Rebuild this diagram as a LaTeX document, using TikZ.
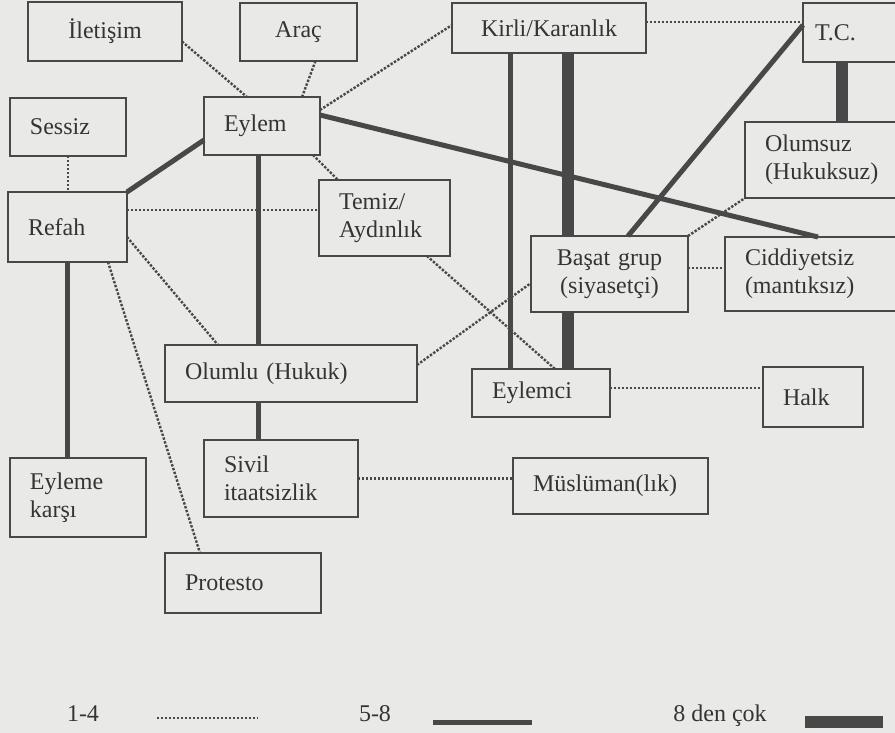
\documentclass[tikz,border=0pt]{standalone}
\usepackage{fontspec}
\setmainfont{Liberation Serif}
\definecolor{kagit}{RGB}{233,233,231}
\definecolor{murekkep}{RGB}{52,52,52}
\definecolor{cizgi}{RGB}{72,72,72}
\begin{document}
\begin{tikzpicture}[x=1pt,y=-1pt,
    kutu/.style={draw=cizgi,line width=2pt,outer sep=0pt,anchor=north west,align=left,inner xsep=20pt,inner ysep=0pt,text=murekkep,font=\fontsize{24}{28}\selectfont},
    ince/.style={draw=cizgi,line width=2.4pt,dash pattern=on 2.4pt off 1.6pt},
    orta/.style={draw=cizgi,line width=5pt},
    kalin/.style={draw=cizgi,line width=12pt},
    yazi/.style={text=murekkep,font=\fontsize{24}{28}\selectfont,anchor=base}]
    \useasboundingbox (0,0) rectangle (895,733);
    \clip (0,0) rectangle (895,733);
    \fill[kagit] (0,0) rectangle (895,733);
    \node[kutu,align=center,text width=114pt,minimum height=59pt] (ilet) at (28,2) {İletişim};
    \node[kutu,align=center,text width=77pt,minimum height=58pt] (arac) at (240,3) {Araç};
    \node[kutu,align=center,text width=154pt,minimum height=50pt] (kirli) at (452,3) {Kirli/Karanlık};
    \node[kutu,inner xsep=12pt,text width=78pt,minimum height=59pt] (tc) at (803,3) {T.C.};
    \node[kutu,text width=76pt,minimum height=58pt] (sessiz) at (10,98) {Sessiz};
    \node[kutu,text width=76pt,minimum height=58pt] (eylem) at (204,97) {Eylem};
    \node[kutu,text width=79pt,minimum height=70pt] (refah) at (8,192) {Refah};
    \node[kutu,text width=91pt,minimum height=76pt] (temiz) at (319,180) {Temiz/\\Aydınlık};
    \node[kutu,text width=114pt,minimum height=76pt] (olumsuz) at (745,122) {Olumsuz\\(Hukuksuz)};
    \node[kutu,align=center,text width=117pt,minimum height=76pt] (basat) at (531,236) {Başat grup\\(siyasetçi)};
    \node[kutu,text width=135pt,minimum height=74pt] (ciddi) at (725,237) {Ciddiyetsiz\\(mantıksız)};
    \node[kutu,text width=212pt,minimum height=57pt] (olumlu) at (165,345) {Olumlu (Hukuk)};
    \node[kutu,text width=98pt,minimum height=48pt] (eylemci) at (472,369) {Eylemci};
    \node[kutu,text width=60pt,minimum height=60pt] (halk) at (763,367) {Halk};
    \node[kutu,text width=114pt,minimum height=77pt] (sivil) at (204,440) {Sivil\\itaatsizlik};
    \node[kutu,text width=155pt,minimum height=56pt] (muslu) at (513,458) {Müslüman(lık)};
    \node[kutu,text width=96pt,minimum height=79pt] (karsi) at (10,458) {Eyleme\\karşı};
    \node[kutu,text width=116pt,minimum height=60pt] (protesto) at (165,553) {Protesto};
    \draw[ince] ([yshift=-10pt]ilet.east) -- ([xshift=-15pt]eylem.north);
    \draw[ince] ([xshift=17pt]arac.south) -- ([xshift=40pt]eylem.north);
    \draw[ince] ([yshift=-13pt]eylem.north east) -- ([yshift=3pt]kirli.west);
    \draw[ince] ([yshift=6pt]kirli.east) -- ([yshift=6pt]kirli.east -| tc.west);
    \draw[ince] (sessiz.south) -- (sessiz.south |- refah.north);
    \draw[ince] ([yshift=17pt]refah.east) -- ([yshift=17pt]refah.east -| temiz.west);
    \draw[ince] ([xshift=-7pt]eylem.south east) -- ([xshift=19pt]temiz.north west);
    \draw[ince] ([yshift=-10pt]refah.east) -- ([xshift=53pt]olumlu.north west);
    \draw[ince] ([xshift=-19pt]refah.south east) -- ([xshift=35pt]protesto.north west);
    \draw[ince] ([xshift=-23pt]temiz.south east) -- ([xshift=83pt]eylemci.north west);
    \draw[ince] ([yshift=-20pt]olumlu.north east) -- ([yshift=-47pt]basat.north west);
    \draw[ince] (basat.north east) -- (olumsuz.south west);
    \draw[ince] ([yshift=6pt]basat.east) -- ([yshift=6pt]basat.east -| ciddi.west);
    \draw[ince] ([yshift=5pt]eylemci.east) -- ([yshift=5pt]eylemci.east -| halk.west);
    \draw[ince] (sivil.east) -- (sivil.east -| muslu.west);
    \draw[orta] ([yshift=-14pt]eylem.west) -- (refah.north east);
    \draw[orta] ([xshift=-4pt]eylem.south) -- ([xshift=-4pt]eylem.south |- olumlu.north);
    \draw[orta] ([yshift=11pt]eylem.east) -- ([xshift=93pt]ciddi.north west);
    \draw[orta] ([xshift=-39pt]kirli.south) -- ([xshift=-39pt]kirli.south |- eylemci.north);
    \draw[orta] ([yshift=-22pt]tc.north west) -- ([xshift=97pt]basat.north west);
    \draw[orta] (refah.south) -- (refah.south |- karsi.north);
    \draw[orta] ([xshift=-33pt]olumlu.south) -- ([xshift=-33pt]olumlu.south |- sivil.north);
    \draw[kalin] ([xshift=19pt]kirli.south) -- ([xshift=19pt]kirli.south |- basat.north);
    \draw[kalin] ([xshift=-41.5pt]basat.south) -- ([xshift=-41.5pt]basat.south |- eylemci.north);
    \draw[kalin] ([xshift=39pt]tc.south west) -- ([xshift=39pt]tc.south west |- olumsuz.north);
    \node[yazi] (l1) at (83,721) {1-4};
    \node[yazi] (l2) at (375,721) {5-8};
    \node[yazi] (l3) at (720,721) {8 den çok};
    \coordinate (a1) at (157,718);
    \coordinate (a2) at (258,718);
    \coordinate (b1) at (433,722);
    \coordinate (b2) at (532,722);
    \coordinate (c1) at (805,721.5);
    \coordinate (c2) at (883,721.5);
    \draw[ince] (a1) -- (a2);
    \draw[orta] (b1) -- (b2);
    \draw[kalin] (c1) -- (c2);
\end{tikzpicture}
\end{document}
